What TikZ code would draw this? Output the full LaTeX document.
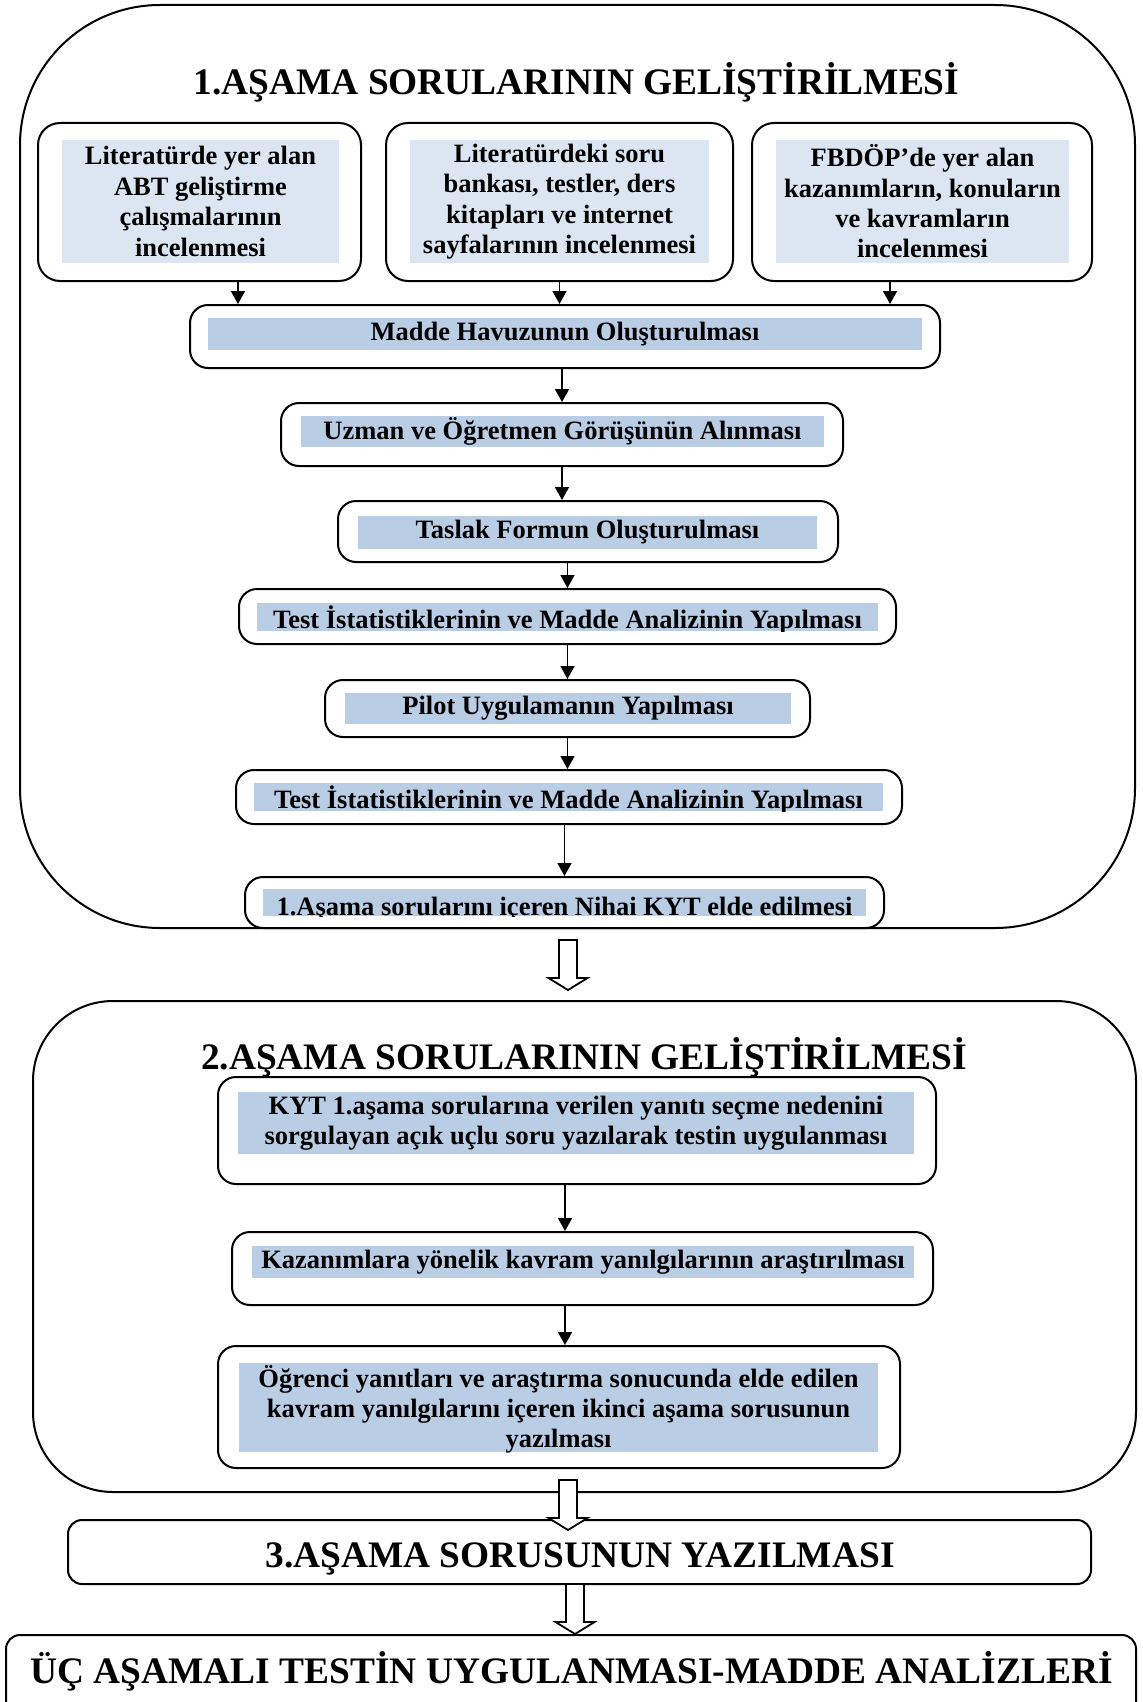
\documentclass[tikz,border=0pt]{standalone}
\usepackage{fontspec}
\setmainfont{Liberation Serif}
\usepackage{tikz}
\usetikzlibrary{arrows.meta}
\definecolor{paleblue}{RGB}{220,230,242}
\definecolor{midblue}{RGB}{185,205,229}

\begin{document}
\begin{tikzpicture}[x=1pt, y=1pt, >={Triangle[length=6.5pt,width=7pt]}, every node/.style={font=\bfseries}]
\tikzstyle{panel}=[rectangle, draw, line width=1pt, inner sep=0pt]
\tikzstyle{block}=[rectangle, draw, line width=1pt, rounded corners=9pt, inner sep=0pt]
\tikzstyle{tint}=[rectangle, inner sep=0pt, align=center, font=\bfseries\fontsize{13.25}{15.2}\selectfont]
\tikzstyle{heading}=[font=\bfseries\fontsize{18.7}{22}\selectfont]
\tikzstyle{link}=[->, line width=0.8pt]
\tikzset{bigdown/.pic={\draw[fill=white, line width=0.9pt] (-4.5,0) -- (-4.5,-19) -- (-9.75,-19) -- (0,-25) -- (9.75,-19) -- (4.5,-19) -- (4.5,0) -- cycle;}}

\useasboundingbox (0,0) rectangle (571.5,-851);

% 1. asama
\node[panel, rounded corners=70pt, minimum width=557.5pt, minimum height=461.5pt] (stageone) at (288.75,-233.25) {};
\node[heading] (titleone) at (288.25,-41) {1.AŞAMA SORULARININ GELİŞTİRİLMESİ};

\node[block, rounded corners=11pt, minimum width=161.5pt, minimum height=79pt] (lit) at (99.75,-101) {};
\node[tint, fill=paleblue, minimum width=138.5pt, minimum height=61.5pt] (litT) at (100.25,-100.75) {Literatürde yer alan\\ABT geliştirme\\çalışmalarının\\incelenmesi};
\node[block, rounded corners=11pt, minimum width=173.5pt, minimum height=79pt] (bank) at (279.75,-101) {};
\node[tint, fill=paleblue, minimum width=149.5pt, minimum height=61.5pt] (bankT) at (279.75,-100.75) {Literatürdeki soru\\bankası, testler, ders\\kitapları ve internet\\sayfalarının incelenmesi};
\node[block, rounded corners=11pt, minimum width=170pt, minimum height=79pt] (curr) at (461,-101) {};
\node[tint, fill=paleblue, minimum width=146.5pt, minimum height=61.5pt] (currT) at (461.25,-100.75) {FBDÖP’de yer alan\\kazanımların, konuların\\ve kavramların\\incelenmesi};

\node[block, minimum width=375pt, minimum height=31.5pt] (pool) at (282.5,-168.25) {};
\node[tint, fill=midblue, minimum width=357pt, minimum height=16pt] (poolT) at (282.5,-167) {Madde Havuzunun Oluşturulması};
\node[block, minimum width=281pt, minimum height=31.5pt] (expert) at (281,-217.25) {};
\node[tint, fill=midblue, minimum width=261.5pt, minimum height=15.5pt] (expertT) at (281.25,-215.75) {Uzman ve Öğretmen Görüşünün Alınması};
\node[block, minimum width=250pt, minimum height=30.5pt] (draft) at (294,-265.75) {};
\node[tint, fill=midblue, minimum width=229.5pt, minimum height=16.5pt] (draftT) at (293.75,-266.25) {Taslak Formun Oluşturulması};
\node[block, minimum width=328.5pt, minimum height=27.5pt] (stats) at (283.75,-308.25) {};
\node[tint, fill=midblue, minimum width=310.5pt, minimum height=14pt] (statsT) at (283.75,-308.5) {};
\begin{scope}
\clip (statsT.south west) rectangle (statsT.north east);
\node[tint, anchor=base] (statsL) at (283.75,-314) {Test İstatistiklerinin ve Madde Analizinin Yapılması};
\end{scope}
\node[block, minimum width=242.5pt, minimum height=28.5pt] (pilot) at (283.75,-354.25) {};
\node[tint, fill=midblue, minimum width=223pt, minimum height=15.5pt] (pilotT) at (284,-354.25) {Pilot Uygulamanın Yapılması};
\node[block, minimum width=333pt, minimum height=27pt] (restats) at (284.5,-398.5) {};
\node[tint, fill=midblue, minimum width=314.5pt, minimum height=14pt] (restatsT) at (284.25,-398.5) {};
\begin{scope}
\clip (restatsT.south west) rectangle (restatsT.north east);
\node[tint, anchor=base] (restatsL) at (284.25,-404) {Test İstatistiklerinin ve Madde Analizinin Yapılması};
\end{scope}
\node[block, minimum width=319.5pt, minimum height=25.5pt] (final) at (282.25,-451.25) {};
\node[tint, fill=midblue, minimum width=301.5pt, minimum height=13.5pt] (finalT) at (282.25,-451.25) {};
\begin{scope}
\clip (finalT.south west) rectangle (finalT.north east);
\node[tint, anchor=base] (finalL) at (282.25,-457.5) {1.Aşama sorularını içeren Nihai KYT elde edilmesi};
\end{scope}

\draw[link] ([xshift=19.25pt]lit.south) -- ([xshift=19.25pt]lit.south |- pool.north);
\draw[link] (bank.south) -- (bank.south |- pool.north);
\draw[link] ([xshift=-16pt]curr.south) -- ([xshift=-16pt]curr.south |- pool.north);
\draw[link] (pool.south -| expert.south) -- (expert.north);
\draw[link] (expert.south) -- (expert.south |- draft.north);
\draw[link] (draft.south -| stats.north) -- (stats.north);
\draw[link] (stats.south) -- (pilot.north);
\draw[link] (pilot.south) -- (pilot.south |- restats.north);
\draw[link] (restats.south -| final.north) -- (final.north);

% 2. asama
\node[panel, rounded corners=40pt, minimum width=551.5pt, minimum height=245.5pt] (stagetwo) at (292.25,-623.25) {};
\pic at ([xshift=-4.75pt,yshift=-5.5pt]stageone.south) {bigdown};
\node[heading] (titletwo) at (292,-528.5) {2.AŞAMA SORULARININ GELİŞTİRİLMESİ};

\node[block, minimum width=359pt, minimum height=53.5pt] (kyt) at (288.5,-565.25) {};
\node[tint, fill=midblue, minimum width=338pt, minimum height=31pt] (kytT) at (288,-561.5) {KYT 1.aşama sorularına verilen yanıtı seçme nedenini\\sorgulayan açık uçlu soru yazılarak testin uygulanması};
\node[block, minimum width=350.5pt, minimum height=36.5pt] (miscon) at (291.25,-634.25) {};
\node[tint, fill=midblue, minimum width=331pt, minimum height=16pt] (misconT) at (291.5,-631) {Kazanımlara yönelik kavram yanılgılarının araştırılması};
\node[block, minimum width=341pt, minimum height=61pt] (second) at (279.5,-703.5) {};
\node[tint, fill=midblue, minimum width=319.5pt, minimum height=44.5pt] (secondT) at (279.25,-703.75) {};
\begin{scope}
\clip (secondT.south west) rectangle (secondT.north east);
\node[tint, font=\bfseries\fontsize{13.25}{15}\selectfont] (secondL) at (279.25,-704.75) {Öğrenci yanıtları ve araştırma sonucunda elde edilen\\kavram yanılgılarını içeren ikinci aşama sorusunun\\yazılması};
\end{scope}

\draw[link] ([xshift=-6pt]kyt.south) -- ([xshift=-6pt]kyt.south |- miscon.north);
\draw[link] ([xshift=-8.75pt]miscon.south) -- ([xshift=-8.75pt]miscon.south |- second.north);

% 3. asama ve uygulama
\node[block, rounded corners=7pt, minimum width=511.5pt, minimum height=32pt] (phase3) at (289.75,-776) {};
\node[heading] (phase3T) at (290,-779.5) {3.AŞAMA SORUSUNUN YAZILMASI};
\pic at ([xshift=-8.25pt,yshift=6.5pt]stagetwo.south) {bigdown};

\node[block, rounded corners=7pt, minimum width=565pt, minimum height=55pt] (apply) at (285.5,-845) {};
\node[heading] (applyT) at (285.75,-835.75) {ÜÇ AŞAMALI TESTİN UYGULANMASI-MADDE ANALİZLERİ};
\pic at ([xshift=-2.25pt,yshift=0.5pt]phase3.south) {bigdown};
\end{tikzpicture}
\end{document}
